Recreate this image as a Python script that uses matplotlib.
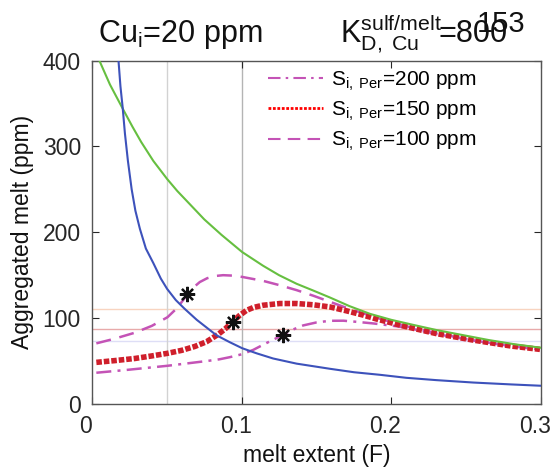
import numpy as np
import matplotlib
matplotlib.use('Agg')
import matplotlib.pyplot as plt
import matplotlib.transforms as mtransforms
from matplotlib.lines import Line2D

plt.rcParams['font.family'] = ['Liberation Sans', 'DejaVu Sans']
plt.rcParams['mathtext.fontset'] = 'custom'
plt.rcParams['mathtext.rm'] = 'Liberation Sans'
plt.rcParams['mathtext.it'] = 'Liberation Sans:italic'

# values (melt extent F, ppm)
greenF = [0.0049, 0.012, 0.0205, 0.027, 0.0329, 0.041, 0.0502, 0.057, 0.0641, 0.075, 0.0865, 0.1003, 0.1143, 0.125, 0.1367,
	0.148, 0.159, 0.172, 0.1857, 0.2, 0.215, 0.2305, 0.25, 0.265, 0.2826, 0.300]
greenV = [400, 372, 344, 323, 305, 283, 262, 248, 235, 215, 197, 177, 161, 150, 140,
	132, 124, 114, 105, 98, 92, 86, 79.5, 74.5, 69.5, 65.5]

blueF = [0.0177, 0.019, 0.0205, 0.022, 0.024, 0.0265, 0.029, 0.032, 0.036, 0.041, 0.046, 0.0502, 0.056, 0.0618, 0.07,
	0.0832, 0.092, 0.1003, 0.11, 0.121, 0.1367, 0.159, 0.175, 0.1924, 0.21, 0.23, 0.2547, 0.28, 0.2993]
blueV = [400, 370, 345, 315, 283, 250, 225, 204, 181, 164, 146, 134, 121, 111, 98,
	80, 72, 65, 59, 53, 47, 41, 37, 34, 30.5, 27.8, 25, 22.8, 21.3]

s150F = [0.0029, 0.015, 0.0286, 0.04, 0.0504, 0.06, 0.0687, 0.0765, 0.0842, 0.089, 0.0939, 0.0985, 0.1032, 0.108, 0.1143,
	0.1255, 0.1367, 0.148, 0.159, 0.17, 0.1812, 0.19, 0.2, 0.21, 0.23, 0.2547, 0.28, 0.2993]
s150V = [48.5, 50.5, 53, 56, 59, 62.5, 67, 72.5, 81, 87.5, 95.7, 103, 109, 112.5, 115,
	117, 117, 115.5, 113, 108.5, 103.5, 99, 94.5, 90, 82, 74.4, 67.5, 63.6]

s100F = [0.0029, 0.015, 0.0286, 0.04, 0.0504, 0.057, 0.0635, 0.068, 0.072, 0.077, 0.082, 0.0876, 0.094, 0.1003, 0.1143,
	0.125, 0.1367, 0.148, 0.159, 0.17, 0.1812, 0.19, 0.2, 0.21, 0.23, 0.2547, 0.28, 0.2993]
s100V = [70.6, 76, 83, 91, 101, 112, 127, 136, 142, 146.5, 149, 150, 149.5, 148, 143.4,
	138.5, 132.6, 126, 119, 112, 105.5, 100.5, 95.5, 90.5, 82.5, 74, 67.5, 63.5]

s200F = [0.0029, 0.025, 0.0504, 0.0765, 0.085, 0.092, 0.1003, 0.1077, 0.1166, 0.1273, 0.134, 0.1411, 0.15, 0.159, 0.168,
	0.1768, 0.188, 0.199, 0.21, 0.23, 0.2547, 0.28, 0.2993]
s200V = [36.4, 40, 44.5, 50, 52, 54.5, 58, 63, 71, 80.2, 86.5, 91.5, 95, 96.9, 97,
	95.7, 93.8, 91.5, 89, 81.5, 74, 67.5, 63.5]

starF = [0.0635, 0.0939, 0.1273]
starV = [128, 95.7, 80.2]

hLevels = [110.5, 87, 73.6]
hColors = ['#f8d4c0', '#e8aaaa', '#dedef6']
vLevels = [0.05, 0.1]
vColors = ['#d2d2d2', '#b4b4b4']

xTicks = [0, 0.1, 0.2, 0.3]
xTickLabels = ['0', '0.1', '0.2', '0.3']
yTicks = [0, 100, 200, 300, 400]

labels = [r'S$_{\rm i,\ Per}$=200 ppm', r'S$_{\rm i,\ Per}$=150 ppm', r'S$_{\rm i,\ Per}$=100 ppm']

magenta = '#c453b6'
red = '#cf1f2b'
dashdot = (0, (6, 2.5, 1.2, 2.5))
dashed = (0, (6, 3.5))

fig = plt.figure(figsize=(5.52, 4.71), dpi=100)
ax = fig.add_axes([92/552, 1-404/471, 449/552, 343.5/471])

for y, c in zip(hLevels, hColors):
	ax.axhline(y, color=c, linewidth=1, zorder=1)
for x, c in zip(vLevels, vColors):
	ax.axvline(x, color=c, linewidth=1, zorder=1)

ax.plot(s100F, s100V, color=magenta, linestyle=dashed, linewidth=1.8, zorder=2)
ax.plot(s200F, s200V, color=magenta, linestyle=dashdot, linewidth=1.8, zorder=2)
ax.plot(s150F, s150V, color=red, linestyle=(0, (1, 0.35)), linewidth=4, zorder=3)
ax.plot(greenF, greenV, color='#66bf40', linewidth=1.5, zorder=4)
ax.plot(blueF, blueV, color='#3d52bb', linewidth=1.5, zorder=4)
ax.plot(starF, starV, linestyle='none', marker=(8, 2, 0), markersize=11, markeredgewidth=1.6, color='#111111', zorder=5)

ax.set_xlim(0, 0.3)
ax.set_ylim(0, 400)
ax.set_xticks(xTicks)
ax.set_xticklabels(xTickLabels)
ax.set_yticks(yTicks)
ax.tick_params(direction='in', top=True, right=True, labelsize=16.5, colors='#262626', length=5, pad=8)
# MATLAB-ish: x tick labels sit a bit left of the ticks
shift = mtransforms.ScaledTranslation(-6/100, 0, fig.dpi_scale_trans)
for lab in ax.get_xticklabels():
	lab.set_transform(lab.get_transform() + shift)
for s in ax.spines.values():
	s.set_color('#555555')
	s.set_linewidth(1)
ax.set_xlabel('melt extent (F)', fontsize=16.5, color='#111111', labelpad=4)
ax.set_ylabel('Aggregated melt (ppm)', fontsize=16.5, color='#111111', labelpad=6)

handles = [
	Line2D([], [], color=magenta, linestyle=dashdot, linewidth=1.5),
	Line2D([], [], color='#ff0000', linestyle=(0, (1, 0.6)), linewidth=2),
	Line2D([], [], color=magenta, linestyle=dashed, linewidth=1.5),
]
ax.legend(handles, labels, loc='upper left', bbox_to_anchor=(260/552, 1-61/471), bbox_transform=fig.transFigure,
	frameon=False, fontsize=15, handlelength=2.6, handletextpad=0.4, labelspacing=0.34, borderaxespad=0)

fig.text(98/552, 1-42/471, r'Cu$_{\rm i}$=20 ppm', fontsize=22, color='#111111', va='baseline', ha='left')
fig.text(340/552, 1-42/471, r'K$^{\rm sulf/melt}_{\rm D,\ Cu}$', fontsize=22, color='#111111', va='baseline', ha='left')
fig.text(438/552, 1-42/471, '=800', fontsize=22, color='#111111', va='baseline', ha='left')
fig.text(477/552, 1-32/471, '153', fontsize=21, color='#111111', va='baseline', ha='left')

fig.savefig('out.png', dpi=100)
